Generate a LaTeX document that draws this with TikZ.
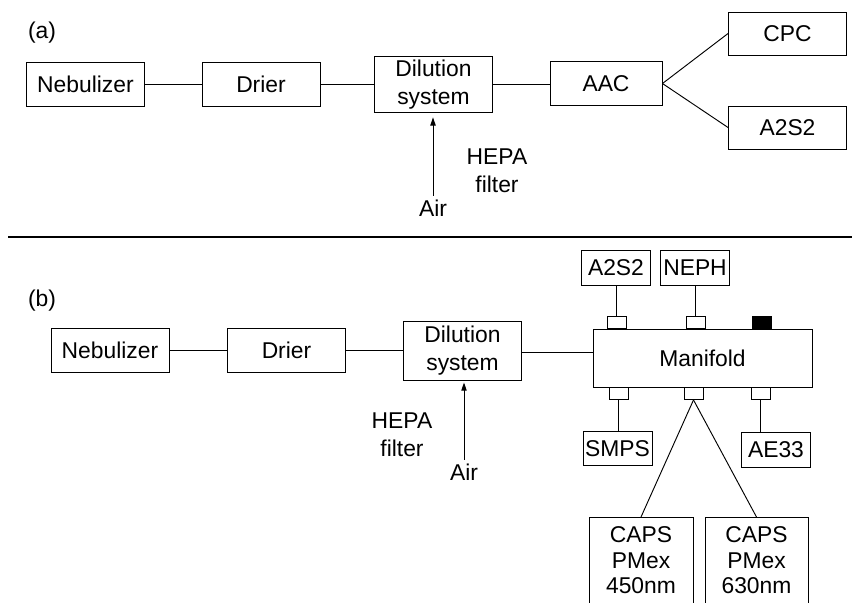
\documentclass[tikz,border=0pt]{standalone}
\usepackage{fontspec}
\setmainfont{Liberation Sans}
\usetikzlibrary{arrows.meta}

\tikzset{
  unit/.style={draw, line width=0.8pt, inner sep=0pt, align=center,
               minimum width=3.54cm, minimum height=1.32cm},
  instr/.style={draw, line width=0.8pt, inner sep=0pt,
                minimum width=2.07cm, minimum height=1.04cm},
  port/.style={draw, line width=0.8pt, inner sep=0pt,
               minimum width=0.57cm, minimum height=0.36cm},
  capsbox/.style={unit, anchor=north, inner ysep=0.27cm,
                  font=\fontsize{19.5}{22}\selectfont},
  pipe/.style={line width=0.8pt},
  feed/.style={line width=0.8pt, -{Triangle[length=7pt,width=4.5pt]}},
}

\begin{document}
\begin{tikzpicture}[x=0.03cm, y=-0.03cm, font=\fontsize{19.5}{24}\selectfont]
  \useasboundingbox (0,0) rectangle (855,602);

  % (a) ageing line
  \node (labA) at (42,33) {(a)};
  \node[unit] (nebA) at (85.5,84) {Nebulizer};
  \node[unit] (drierA) at (261,84) {Drier};
  \node[unit, minimum height=1.7cm] (dilA) at (433.5,84.5) {Dilution\\system};
  \node[unit, minimum width=3.36cm] (aacA) at (606,83.5) {AAC};
  \node[unit, minimum height=1.29cm] (cpcA) at (787.5,33.5) {CPC};
  \node[unit, minimum height=1.29cm] (a2s2A) at (787.5,127.5) {A2S2};
  \node (airA) at (433,208) {Air};
  \node[align=center] (hepaA) at (497,171) {HEPA\\filter};

  \draw[pipe] (nebA.east) -- (nebA.east -| drierA.west);
  \draw[pipe] (drierA.east) -- (drierA.east -| dilA.west);
  \draw[pipe] (dilA.east) -- (dilA.east -| aacA.west);
  \draw[pipe] (aacA.east) -- (cpcA.west);
  \draw[pipe] (aacA.east) -- (a2s2A.west);
  \draw[feed, shorten >=0.12cm] (airA.north) -- (airA.north |- dilA.south);

  % separator
  \draw[line width=1.7pt] (8,237) -- (852,237);

  % (b) manifold line
  \node (labB) at (42,301) {(b)};
  \node[unit] (nebB) at (110,350) {Nebulizer};
  \node[unit] (drierB) at (286.5,350) {Drier};
  \node[unit, minimum height=1.77cm] (dilB) at (462.5,350.5) {Dilution\\system};
  \node[unit, minimum width=6.57cm, minimum height=1.74cm] (manB) at (702.5,358) {Manifold};
  \node (airB) at (464,472) {Air};
  \node[align=center] (hepaB) at (402,435) {HEPA\\filter};

  \draw[pipe] (nebB.east) -- (nebB.east -| drierB.west);
  \draw[pipe] (drierB.east) -- (drierB.east -| dilB.west);
  \draw[pipe] ([yshift=-0.06cm]dilB.east) -- ([yshift=-0.06cm]dilB.east -| manB.west);
  \draw[feed, shorten >=0.06cm] (airB.north) -- (airB.north |- dilB.south);

  % ports on the manifold
  \node[port, anchor=south] (pA2S2) at (617,329) {};
  \node[port, anchor=south] (pNEPH) at (695.5,329) {};
  \node[port, anchor=south, fill=black] (pShut) at (761.5,329) {};
  \node[port, anchor=north] (pSMPS) at (618.5,387) {};
  \node[port, anchor=north] (pCAPS) at (693.5,387) {};
  \node[port, anchor=north] (pAE33) at (760.5,387) {};

  % instruments
  \node[instr] (a2s2B) at (616,268) {A2S2};
  \node[instr] (nephB) at (695,268) {NEPH};
  \node[instr] (smpsB) at (617.5,448.5) {SMPS};
  \node[instr] (ae33B) at (776,450) {AE33};
  \node[capsbox, minimum width=3.12cm] (caps450) at (641,517) {CAPS\\PMex\\450nm};
  \node[capsbox, minimum width=3.09cm] (caps630) at (756.5,517) {CAPS\\PMex\\630nm};

  \draw[pipe] (a2s2B.south) -- (a2s2B.south |- pA2S2.north);
  \draw[pipe] (nephB.south) -- (nephB.south |- pNEPH.north);
  \draw[pipe] (pSMPS.south) -- (pSMPS.south |- smpsB.north);
  \draw[pipe] (pAE33.south) -- (pAE33.south |- ae33B.north);
  \draw[pipe] (pCAPS.south) -- (caps450.north);
  \draw[pipe] (pCAPS.south) -- (caps630.north);
\end{tikzpicture}
\end{document}
